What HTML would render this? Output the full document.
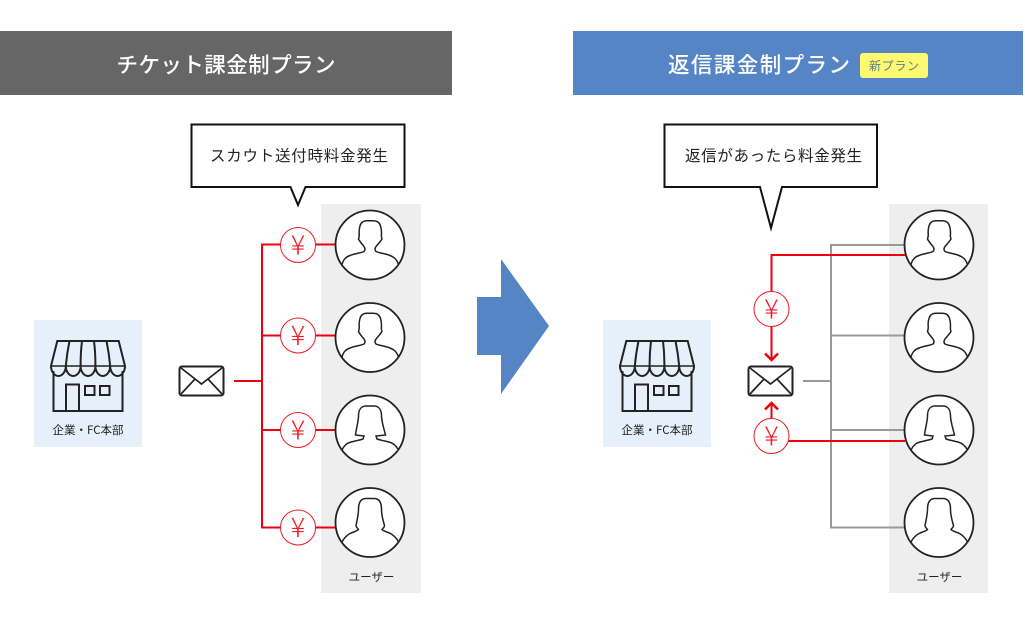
<!DOCTYPE html>
<html lang="ja"><head><meta charset="utf-8"><title>プラン比較</title>
<style>
html,body{margin:0;padding:0;background:#fff}
svg{display:block}
text{font-family:"Liberation Sans","Noto Sans CJK JP",sans-serif}
.t{font-family:"Noto Sans CJK JP",sans-serif}
</style></head><body>
<svg xmlns="http://www.w3.org/2000/svg" width="1025" height="635" viewBox="0 0 1025 635">
<defs>
<g id="store" fill="none" stroke="#222" stroke-width="2">
<path d="M-34.500 30V70H34.500V30"/>
<path d="M-30.700 0H30.700L37 25A7.400 10 0 0 1 22.200 25A7.400 10 0 0 1 7.400 25A7.400 10 0 0 1 -7.400 25A7.400 10 0 0 1 -22.200 25A7.400 10 0 0 1 -37 25Z"/>
<path d="M-37 25H37" stroke-width="1.600"/>
<path d="M-18.500 0Q-21 12 -22.200 25M-6 0Q-7.500 12 -7.400 25M6 0Q7.500 12 7.400 25M18.500 0Q21 12 22.200 25"/>
<path d="M-22 70V43.500H-9V70"/>
<rect x="-3" y="45" width="9.500" height="9"/>
<rect x="12" y="45" width="9.500" height="9"/>
</g>
<g id="mail" fill="#fff" stroke="#222" stroke-width="2">
<rect x="0.500" y="0.500" width="44" height="29" rx="2.500"/>
<path d="M2 2L22.500 18L43 2M2 28L16 13M43 28L29 13" fill="none" stroke-width="1.700"/>
</g>
<circle id="c" r="34.500" fill="#fff" stroke="#222" stroke-width="1.800"/>
<path id="m" fill="#fff" stroke="#222" stroke-width="1.500" d="M-28 19.500C-26.500 14 -24 12 -20 10.500C-15 8.500 -9 8 -6 6.500C-4.500 5 -5 3 -6 1.500C-8 -1 -10 -3 -11.500 -6C-11 -8 -10.500 -9 -10.800 -11C-11 -14 -11 -16 -10 -19C-9 -23 -6 -24.300 -3 -24.300H3C7 -24.300 9.500 -23 10.500 -19C11.500 -16 11.500 -13 11.500 -11C11 -9 11.500 -8 12 -6C10 -3 8 -1 6 1.500C5 3 4.500 5 6 6.500C9 8 15 8.500 20 10.500C24 12 26.500 14 28.500 19.500"/>
<path id="f" fill="#fff" stroke="#222" stroke-width="1.500" d="M-28 20C-26 15.500 -23 13 -19 12C-15 11 -10 10 -7 9L-6 6L-14.500 5C-13.500 -3 -11.500 -9 -11.500 -14C-11.500 -20 -9 -24 -4 -24H4C9 -24 11.500 -20 11.500 -14C11.500 -9 13.500 -3 15.500 5L6 6L7 9C10 10 15 11 19 12C23 13 26 15.500 28.500 20"/>
<path id="g" fill="#fff" stroke="#222" stroke-width="1.500" d="M-28 19.500C-26 15.500 -23.500 13 -20 11C-17 9.500 -13.500 9 -11.500 7C-12.500 5.500 -14 5 -14 3C-13 -2 -11.500 -8 -11.500 -13C-11.500 -20 -9 -24 -4 -24H4C9 -24 11.500 -20 11.500 -13C11.500 -8 13 -2 14.500 3C14.500 5 13 5.500 12 7C14 9 17.500 9.500 20.500 11C24 13 26.500 15.500 28.500 19.500"/>
<g id="y">
<circle r="17.500" fill="#fff" stroke="#ee1c25" stroke-width="1"/>
<text class="t" y="9.500" text-anchor="middle" font-size="27" font-weight="300" fill="#ee1c25">¥</text>
</g>
</defs>

<rect x="0" y="31" width="452" height="64" fill="#666"/>
<rect x="573" y="31" width="450" height="64" fill="#5585c5"/>
<text class="t" x="116.500" y="72.500" font-size="21.500" font-weight="500" fill="#fff" textLength="219">チケット課金制プラン</text>
<text class="t" x="668" y="72.500" font-size="21.500" font-weight="500" fill="#fff" textLength="182">返信課金制プラン</text>
<rect x="860" y="53" width="68" height="25" rx="3" fill="#fdf970"/>
<text class="t" x="869" y="70" font-size="12" fill="#5f7f8c" textLength="50">新プラン</text>

<path d="M191.500 124.500H404.500V187H305.500L298 205L290.500 187H191.500Z" fill="#fff" stroke="#111" stroke-width="2"/>
<text class="t" x="210" y="161" font-size="15.500" fill="#222" textLength="178">スカウト送付時料金発生</text>
<path d="M664.500 124.500H877V187H782L771 228L760 187H664.500Z" fill="#fff" stroke="#111" stroke-width="2"/>
<text class="t" x="685" y="161" font-size="15.500" fill="#222" textLength="177">返信があったら料金発生</text>

<rect x="321" y="204" width="100" height="389" fill="#eee"/>
<rect x="889" y="204" width="99" height="389" fill="#eee"/>
<rect x="34" y="320" width="108" height="127" fill="#e6f0fa"/>
<rect x="603" y="320" width="108" height="127" fill="#e6f0fa"/>

<polygon points="477,297 501,297 501,259 549,326 501,394 501,355 477,355" fill="#5585c5"/>

<use href="#store" x="88" y="341"/>
<use href="#store" x="657" y="341"/>
<text class="t" x="88" y="434" font-size="11.500" fill="#222" text-anchor="middle">企業・FC本部</text>
<text class="t" x="657" y="434" font-size="11.500" fill="#222" text-anchor="middle">企業・FC本部</text>

<path d="M234 381H262M336 244.500H262V527.500H336M262 335.500H336M262 430H336" fill="none" stroke="#ee0011" stroke-width="2"/>
<use href="#mail" x="179" y="366"/>
<use href="#y" x="298" y="245"/>
<use href="#y" x="298" y="335.500"/>
<use href="#y" x="298" y="430"/>
<use href="#y" x="298" y="527.500"/>

<path d="M803 381H831M905 245H831V527.500H905M831 335.500H905M831 430H905" fill="none" stroke="#999" stroke-width="2"/>
<path d="M905 255H771.500V358M905 441H771.500M771.500 420V405" fill="none" stroke="#ee0011" stroke-width="2"/>
<path d="M765 353.500L771.500 360L778 353.500M765 409.500L771.500 403L778 409.500" fill="none" stroke="#ee0011" stroke-width="2.500"/>
<use href="#mail" x="748" y="366"/>
<use href="#y" x="771.500" y="309"/>
<use href="#y" x="771.500" y="436"/>

<use href="#c" x="370" y="245"/><use href="#m" x="370" y="245"/>
<use href="#c" x="370" y="337.500"/><use href="#m" x="370" y="337.500"/>
<use href="#c" x="370" y="430"/><use href="#f" x="370" y="430"/>
<use href="#c" x="370" y="522.500"/><use href="#g" x="370" y="522.500"/>
<use href="#c" x="939" y="245"/><use href="#m" x="939" y="245"/>
<use href="#c" x="939" y="337.500"/><use href="#m" x="939" y="337.500"/>
<use href="#c" x="939" y="430"/><use href="#f" x="939" y="430"/>
<use href="#c" x="939" y="522.500"/><use href="#g" x="939" y="522.500"/>

<text class="t" x="371.500" y="581" font-size="11.500" fill="#222" text-anchor="middle">ユーザー</text>
<text class="t" x="939.500" y="581" font-size="11.500" fill="#222" text-anchor="middle">ユーザー</text>
</svg>
</body></html>
